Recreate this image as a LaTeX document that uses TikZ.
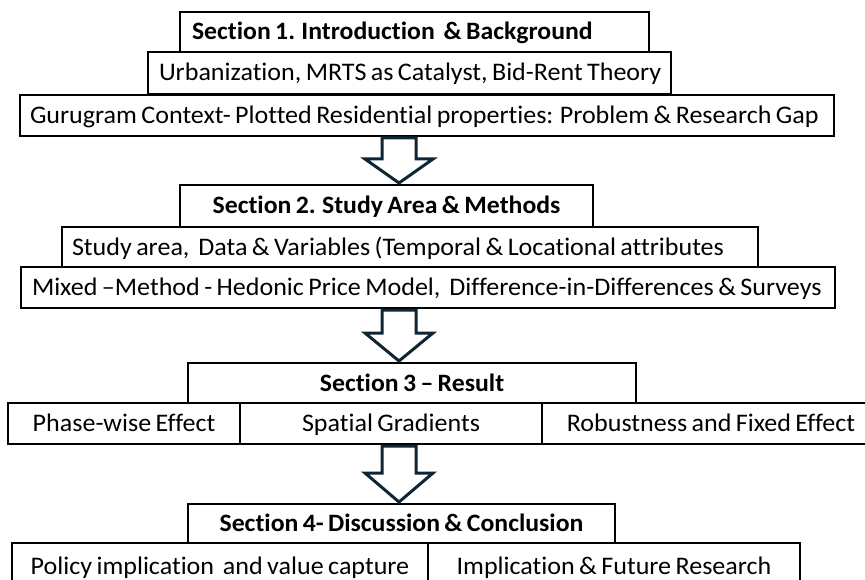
\documentclass[tikz,border=0pt]{standalone}
\usepackage{fontspec}
\setmainfont{Carlito}[Ligatures=CommonOff,WordSpace=0.75,FakeStretch=1.03]
\usetikzlibrary{calc}
\definecolor{arrowblue}{RGB}{16,37,51}
\newcommand{\lefttext}[2]{\makebox[#1][l]{#2}}

\begin{document}
\begin{tikzpicture}[x=1pt,y=-1pt]
\tikzset{
  boxline/.style={draw=black,line width=1.5pt,inner sep=0pt,outer sep=0pt,text height=19pt,text depth=3pt},
  secbox/.style={boxline,font=\fontsize{25}{29}\selectfont\bfseries},
  itembox/.style={boxline,font=\fontsize{25.3}{29}\selectfont},
  leftbox/.style={itembox,inner xsep=11pt},
  leftsec/.style={secbox,inner xsep=12pt}
}
\tikzset{flowarrow/.style={draw=arrowblue,line width=3pt,line join=miter,fill=white}}
\useasboundingbox (0,0) rectangle (865,580);
% section 1
\node[leftsec,minimum height=40pt] (n_sec1) at (414.5,32) {\lefttext{445pt}{Section 1. Introduction~ \& Background}};
\node[leftbox,minimum height=42pt] (n_urban) at (409.5,73) {\lefttext{501pt}{Urbanization, MRTS as Catalyst, Bid-Rent Theory}};
\node[leftbox,minimum height=41pt,inner xsep=10pt] (n_gap) at (427,115.5) {\lefttext{794pt}{Gurugram Context- Plotted Residential properties: Problem \& Research Gap}};
% section 2
\node[secbox,minimum width=413pt,minimum height=42pt] (n_sec2) at (386.5,206) {Section 2. Study Area \& Methods};
\node[leftbox,minimum height=40pt,inner xsep=10pt] (n_data) at (410,247) {\lefttext{676pt}{Study area,~ Data \& Variables (Temporal \& Locational attributes}};
\node[leftbox,minimum height=41pt] (n_mixed) at (428,287.5) {\lefttext{792pt}{Mixed --Method - Hedonic Price Model,~ Difference-in-Differences \& Surveys}};
% section 3
\node[secbox,minimum width=448pt,minimum height=40pt] (n_sec3) at (412,383) {Section 3 -- Result};
\node[itembox,minimum width=232pt,minimum height=41pt] (n_phase) at (124,423.5) {Phase-wise Effect};
\node[itembox,minimum width=302pt,minimum height=41pt] (n_spatial) at (391,423.5) {Spatial Gradients};
\node[itembox,minimum width=338pt,minimum height=41pt] (n_robust) at (711,423.5) {Robustness and Fixed Effect};
% section 4
\node[secbox,minimum width=427pt,minimum height=39pt] (n_sec4) at (401.5,523.5) {Section 4- Discussion \& Conclusion};
\node[itembox,minimum width=416pt,minimum height=47pt] (n_policy) at (220,566.5) {Policy implication~ and value capture};
\node[itembox,minimum width=372pt,minimum height=47pt] (n_future) at (614,566.5) {Implication \& Future Research};
% block arrows
\foreach \a/\b/\h in {n_gap/n_sec2/26,n_mixed/n_sec3/30,n_robust/n_sec4/31}{
  \coordinate (a_top) at (399,0 |- \a.south);
  \coordinate (a_tip) at (399,0 |- \b.north);
  \draw[flowarrow] ($(a_top)+(-17,2)$) -- ($(a_top)+(17,2)$) -- ($(a_tip)+(17,-\h)$)
    -- ($(a_tip)+(34,-\h)$) -- ($(a_tip)+(0,-2)$) -- ($(a_tip)+(-34,-\h)$)
    -- ($(a_tip)+(-17,-\h)$) -- cycle;
}
\end{tikzpicture}
\end{document}
